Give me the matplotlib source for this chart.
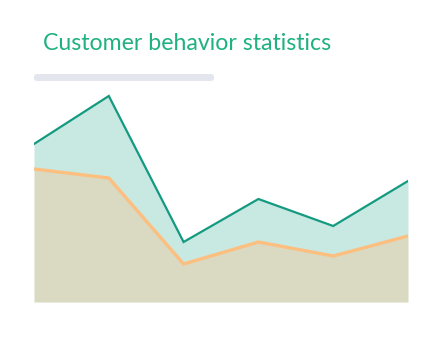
import matplotlib
matplotlib.use("Agg")
import matplotlib.pyplot as plt
from matplotlib.patches import FancyBboxPatch

# Series values (shared baseline at 0)
months = ["Jan", "Feb", "Mar", "Apr", "May", "Jun"]
visits = [158, 206, 60, 103, 76, 121]
purchases = [133, 124, 38, 60, 46, 66]

W, H = 434, 339
fig = plt.figure(figsize=(W / 100, H / 100), dpi=100)
fig.patch.set_facecolor("white")

# Plot area in pixel coordinates
left, right, bottom_px, top_px = 34, 408, 302, 82
ax = fig.add_axes([left / W, (H - bottom_px) / H,
                   (right - left) / W, (bottom_px - top_px) / H])
x = list(range(len(months)))
ax.fill_between(x, purchases, visits, color="#c8e8e2", linewidth=0)
ax.fill_between(x, 0, purchases, color="#dad9c1", linewidth=0)
ax.plot(x, visits, color="#139a80", linewidth=1.6, solid_joinstyle="miter")
ax.plot(x, purchases, color="#fdbf7f", linewidth=2.4, solid_joinstyle="miter")
ax.set_xlim(0, len(months) - 1)
ax.set_ylim(0, 220)
ax.axis("off")

# Title and placeholder bar
fig.text(43 / W, 1 - 50 / H, "Customer behavior statistics", family="Lato",
         fontsize=16.7, color="#1fb17f", va="baseline", ha="left")
bar = FancyBboxPatch((34 / W, 1 - 81 / H), 180 / W, 7 / H,
                     boxstyle="round,pad=0,rounding_size=0.008",
                     transform=fig.transFigure, facecolor="#e3e6ec",
                     edgecolor="none")
fig.patches.append(bar)

fig.savefig("out.png", dpi=100, facecolor="white")
